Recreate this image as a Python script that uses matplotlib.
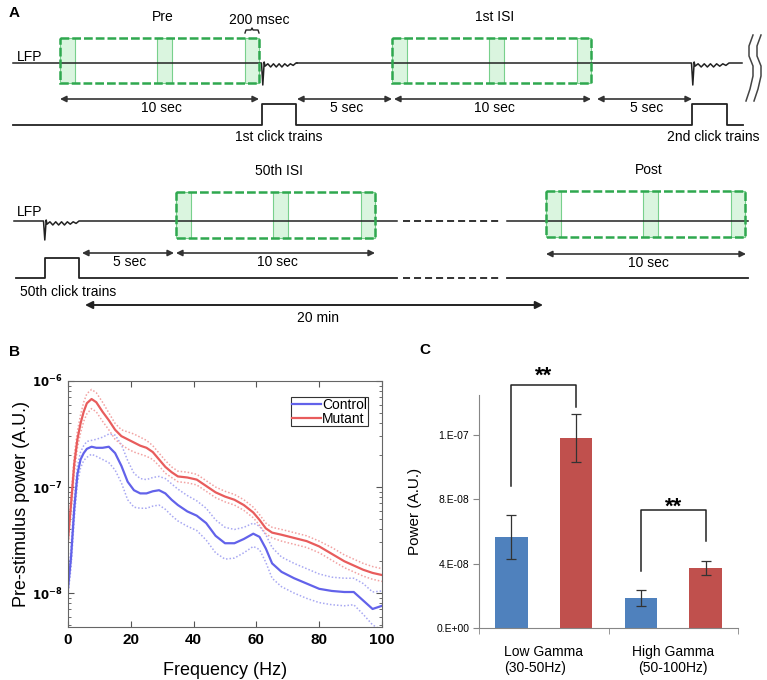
import numpy as np
import matplotlib
matplotlib.use("Agg")
import matplotlib.pyplot as plt
from matplotlib.patches import Rectangle
from matplotlib.ticker import LogLocator, NullFormatter, FixedLocator

plt.rcParams['font.family'] = ['Liberation Sans', 'DejaVu Sans']

W, H = 767, 680

## panel B: pre-stimulus power spectra, log10(power)
freq = [0, 1, 2, 3, 4, 5, 6, 7.5, 9, 11, 13, 15, 17, 19, 21, 23, 25, 27, 29, 31, 33, 35,
        38, 41, 44, 47, 50, 53, 56, 59, 61, 63, 65, 68, 72, 76, 80, 84, 88, 91, 94, 97, 100]
mut_mean = [-7.50, -7.15, -6.78, -6.55, -6.40, -6.29, -6.21, -6.17, -6.20, -6.29, -6.37,
            -6.46, -6.52, -6.55, -6.58, -6.61, -6.63, -6.67, -6.74, -6.81, -6.86, -6.90,
            -6.91, -6.93, -6.99, -7.05, -7.09, -7.12, -7.17, -7.24, -7.31, -7.39, -7.43,
            -7.45, -7.48, -7.51, -7.56, -7.63, -7.70, -7.74, -7.78, -7.81, -7.83]
mut_upper = [-7.45, -7.08, -6.70, -6.47, -6.32, -6.20, -6.12, -6.08, -6.11, -6.20, -6.30,
             -6.40, -6.46, -6.48, -6.50, -6.53, -6.56, -6.61, -6.68, -6.75, -6.81, -6.85,
             -6.86, -6.88, -6.94, -7.00, -7.04, -7.07, -7.12, -7.19, -7.26, -7.34, -7.38,
             -7.40, -7.43, -7.46, -7.51, -7.57, -7.64, -7.68, -7.72, -7.75, -7.77]
mut_lower = [-7.56, -7.22, -6.86, -6.63, -6.49, -6.38, -6.31, -6.26, -6.29, -6.38, -6.46,
             -6.55, -6.60, -6.64, -6.67, -6.69, -6.71, -6.74, -6.80, -6.87, -6.91, -6.95,
             -6.96, -6.98, -7.04, -7.10, -7.14, -7.17, -7.22, -7.29, -7.36, -7.44, -7.48,
             -7.51, -7.54, -7.57, -7.62, -7.69, -7.76, -7.80, -7.84, -7.87, -7.89]
ctrl_mean = [-7.96, -7.65, -7.20, -6.88, -6.74, -6.68, -6.64, -6.62, -6.63, -6.63, -6.62,
             -6.68, -6.80, -6.95, -7.03, -7.06, -7.06, -7.04, -7.03, -7.06, -7.12, -7.17,
             -7.23, -7.27, -7.34, -7.46, -7.53, -7.53, -7.49, -7.44, -7.47, -7.58, -7.72,
             -7.80, -7.86, -7.91, -7.96, -7.98, -7.99, -7.99, -8.07, -8.15, -8.12]
ctrl_upper = [-7.90, -7.55, -7.10, -6.80, -6.67, -6.61, -6.57, -6.56, -6.55, -6.53, -6.50,
              -6.51, -6.60, -6.75, -6.87, -6.92, -6.93, -6.91, -6.90, -6.92, -6.97, -7.02,
              -7.08, -7.13, -7.20, -7.31, -7.38, -7.40, -7.38, -7.34, -7.37, -7.45, -7.57,
              -7.66, -7.72, -7.77, -7.82, -7.85, -7.86, -7.86, -7.91, -7.99, -7.98]
ctrl_lower = [-8.02, -7.75, -7.30, -6.96, -6.82, -6.75, -6.72, -6.69, -6.71, -6.74, -6.77,
              -6.84, -6.96, -7.12, -7.19, -7.20, -7.20, -7.18, -7.17, -7.21, -7.27, -7.32,
              -7.37, -7.41, -7.50, -7.62, -7.68, -7.67, -7.62, -7.56, -7.59, -7.71, -7.86,
              -7.94, -8.00, -8.05, -8.09, -8.11, -8.12, -8.11, -8.20, -8.30, -8.35]

## panel C: gamma band power
bands = ['Low Gamma\n(30-50Hz)', 'High Gamma\n(50-100Hz)']
ctrl_pow = [5.64e-8, 1.86e-8]
ctrl_err = [1.37e-8, 0.47e-8]
mut_pow = [11.8e-8, 3.72e-8]
mut_err = [1.5e-8, 0.45e-8]
c_ticks = [0, 4e-8, 8e-8, 1.2e-7]
c_ticklabels = ['0.E+00', '4.E-08', '8.E-08', '1.E-07']

## panel A: schematic layout (pixel coords)
windows = [(60, 38, 'Pre'), (392, 38, '1st ISI'), (176, 192, '50th ISI'), (546, 191, 'Post')]
shades = [(0, 15), (97, 15), (185, 14)]
wiggle = [4, 1, 5, 1, 5, 1, 5, 1, 4, 1, 3, 0]
arrows = [(60, 259, 99, '10 sec'), (297, 392, 99, '5 sec'), (394, 591, 99, '10 sec'),
          (597, 692, 99, '5 sec'), (82, 174, 253, '5 sec'), (176, 375, 253, '10 sec'),
          (546, 746, 254, '10 sec')]

ink = '#222222'
green = '#2fa84f'

fig = plt.figure(figsize=(W / 100, H / 100), dpi=100)
axA = fig.add_axes([0, 0, 1, 1])
axA.set_xlim(0, W)
axA.set_ylim(H, 0)
axA.axis('off')


def fx(px):
    return px / W


def fy(py):
    return 1 - py / H


def lfp(y, x0, events, x1, depth):
    xs, ys = [x0], [y]
    for ex, wlen, tail in events:
        xs += [ex - 0.5, ex + 0.8, ex + 2.2]
        ys += [y, y + depth, y - 1]
        wx = np.linspace(ex + 3, ex + 3 + wlen, len(wiggle))
        xs += list(wx)
        ys += [y + w * 0.8 for w in wiggle]
        if tail:
            xs.append(tail)
            ys.append(y)
    xs.append(x1)
    ys.append(y)
    axA.plot(xs, ys, color=ink, lw=1.1, zorder=3, solid_joinstyle='round')


def stim(y, yh, pulses, x0, x1):
    xs, ys = [x0], [y]
    for a, b in pulses:
        xs += [a, a, b, b]
        ys += [y, yh, yh, y]
    xs.append(x1)
    ys.append(y)
    axA.plot(xs, ys, color=ink, lw=1.3, zorder=3)


# windows
for bx, by, title in windows:
    bh = 45 if by < 100 else 46
    for off, sw in shades:
        axA.add_patch(Rectangle((bx + off, by), sw, bh, facecolor='#daf5df',
                                edgecolor='#78d08c', lw=0.8, zorder=1))
    axA.add_patch(Rectangle((bx, by), 199, bh, fill=False, edgecolor=green, lw=1.8,
                            linestyle=(0, (3.5, 1.2)), zorder=4))
    axA.text(bx + 103, by - 21, title, ha='center', va='center', fontsize=10)

# row 1
lfp(63, 13, [(262, 31, None)], 297, 22)
lfp(63, 297, [(692, 34, 730)], 742, 22)
stim(125, 104, [(262, 296), (692, 727)], 13, 743)
axA.text(17, 57, 'LFP', ha='left', va='center', fontsize=10)
axA.text(279, 137, '1st click trains', ha='center', va='center', fontsize=10)
axA.text(713, 137, '2nd click trains', ha='center', va='center', fontsize=10)
axA.text(259, 20, '200 msec', ha='center', va='center', fontsize=10)
axA.plot([245, 246, 251, 252, 253, 258, 259], [33, 30, 30, 28, 30, 30, 33], color=ink, lw=1)
for dx in (0, 8):
    axA.plot([753 + dx, 749 + dx, 749 + dx, 753 + dx, 753 + dx, 750 + dx, 746 + dx],
             [35, 46, 56, 66, 76, 89, 101], color='#444444', lw=1.1)

# row 2
lfp(221, 14, [(44, 32, None)], 397, 19)
stim(278, 258, [(45, 79)], 16, 397)
for y in (221, 278):
    axA.plot([403, 502], [y, y], color=ink, lw=1.3, linestyle=(0, (3.9, 2.2)))
    axA.plot([507, 748], [y, y], color=ink, lw=1.3 if y == 278 else 1.1, zorder=3)
axA.text(17, 212, 'LFP', ha='left', va='center', fontsize=10)
axA.text(20, 292, '50th click trains', ha='left', va='center', fontsize=10)
axA.annotate('', xy=(543, 305), xytext=(85, 305),
             arrowprops=dict(arrowstyle='<|-|>', color=ink, lw=1.4, mutation_scale=11,
                             shrinkA=0, shrinkB=0))
axA.text(318, 318, '20 min', ha='center', va='center', fontsize=10)

for x0, x1, y, lab in arrows:
    axA.annotate('', xy=(x1, y), xytext=(x0, y),
                 arrowprops=dict(arrowstyle='<|-|>', color='#333333', lw=1.2,
                                 mutation_scale=9, shrinkA=0, shrinkB=0))
    axA.text((x0 + x1) / 2 + 2, y + 9, lab, ha='center', va='center', fontsize=10)

# panel letters
axA.text(9, 13, 'A', fontsize=11, fontweight='bold', va='center')
axA.text(9, 352, 'B', fontsize=11, fontweight='bold', va='center')
axA.text(419, 350, 'C', fontsize=11, fontweight='bold', va='center')

## panel B
axB = fig.add_axes([fx(68), fy(627), (382 - 68) / W, (627 - 381) / H])
f = np.array(freq)
for lo, hi, mean, c_line, c_dot, lab in [
        (ctrl_lower, ctrl_upper, ctrl_mean, '#6262ea', '#a8a8f2', 'Control'),
        (mut_lower, mut_upper, mut_mean, '#e85c5c', '#f2a2a2', 'Mutant')]:
    axB.plot(f, 10 ** np.array(hi), color=c_dot, lw=1.1, linestyle=(0, (1, 1.3)))
    axB.plot(f, 10 ** np.array(lo), color=c_dot, lw=1.1, linestyle=(0, (1, 1.3)))
    axB.plot(f, 10 ** np.array(mean), color=c_line, lw=1.6, label=lab)
axB.set_yscale('log')
axB.set_xlim(0, 100)
axB.set_ylim(10 ** -8.32, 1e-6)
axB.set_xticks([0, 20, 40, 60, 80, 100])
axB.set_xticklabels(['0', '20', '40', '60', '80', '100'], fontweight='bold', fontsize=11)
axB.yaxis.set_major_locator(FixedLocator([1e-8, 1e-7, 1e-6]))
axB.set_yticklabels([r'$\mathbf{10^{-8}}$', r'$\mathbf{10^{-7}}$', r'$\mathbf{10^{-6}}$'],
                    fontsize=8.5)
axB.yaxis.set_minor_locator(LogLocator(base=10, subs=np.arange(2, 10)))
axB.yaxis.set_minor_formatter(NullFormatter())
axB.tick_params(which='both', direction='in', top=True, right=True, color='#555555')
axB.tick_params(which='major', length=4, pad=4)
axB.tick_params(which='minor', length=2)
for s in axB.spines.values():
    s.set_color('#666666')
axB.set_xlabel('Frequency (Hz)', fontsize=13, labelpad=11)
axB.set_ylabel('Pre-stimulus power (A.U.)', fontsize=13, labelpad=1)
leg = axB.legend(loc='upper right', bbox_to_anchor=(0.955, 0.935), borderaxespad=0,
                 fontsize=10, fancybox=False, framealpha=1, edgecolor='#333333',
                 borderpad=0.05, labelspacing=0.0, handlelength=2.1, handletextpad=0.1)
leg.get_frame().set_linewidth(0.8)

## panel C
axC = fig.add_axes([fx(479), fy(628), (738 - 479) / W, (628 - 395) / H])
xpos = np.arange(len(bands)) * 2
axC.bar(xpos, ctrl_pow, 0.5, yerr=ctrl_err, color='#4f81bd',
        error_kw=dict(ecolor='#333333', elinewidth=0.9, capsize=3.5, capthick=0.9))
axC.bar(xpos + 1, mut_pow, 0.5, yerr=mut_err, color='#c0504d',
        error_kw=dict(ecolor='#333333', elinewidth=0.9, capsize=3.5, capthick=0.9))
axC.set_xlim(-0.5, 3.5)
axC.set_ylim(0, 1.445e-7)
axC.set_yticks(c_ticks)
axC.set_yticklabels(c_ticklabels, fontsize=7.5)
axC.set_xticks(xpos + 0.5)
axC.set_xticklabels(bands, fontsize=10)
axC.xaxis.set_minor_locator(FixedLocator([-0.5, 0.5, 1.5, 2.5, 3.5]))
axC.tick_params(axis='x', which='major', length=0, pad=12)
axC.tick_params(axis='x', which='minor', length=4, color='#868686')
axC.tick_params(axis='y', length=4, color='#868686', pad=3)
axC.get_xticklabels()[0].set_multialignment('left')
for s in ('top', 'right'):
    axC.spines[s].set_visible(False)
for s in ('left', 'bottom'):
    axC.spines[s].set_color('#868686')
axC.set_ylabel('Power (A.U.)', fontsize=11)
axC.yaxis.set_label_coords(-0.22, 0.5)

# significance brackets: (x_left, y_left, x_right, y_right, y_top, y_star)
brackets = [(0, 8.8e-8, 1, 13.7e-8, 15.07e-8, 15.26e-8),
            (2, 3.53e-8, 3, 5.4e-8, 7.32e-8, 7.12e-8)]
for xl, yl, xr, yr, yt, ys in brackets:
    axC.plot([xl, xl, xr, xr], [yl, yt, yt, yr], color=ink, lw=1.1, clip_on=False)
    axC.text((xl + xr) / 2, ys, '**', ha='center', va='baseline', fontsize=16,
             fontweight='bold', clip_on=False)

fig.savefig('out.png', dpi=100)
